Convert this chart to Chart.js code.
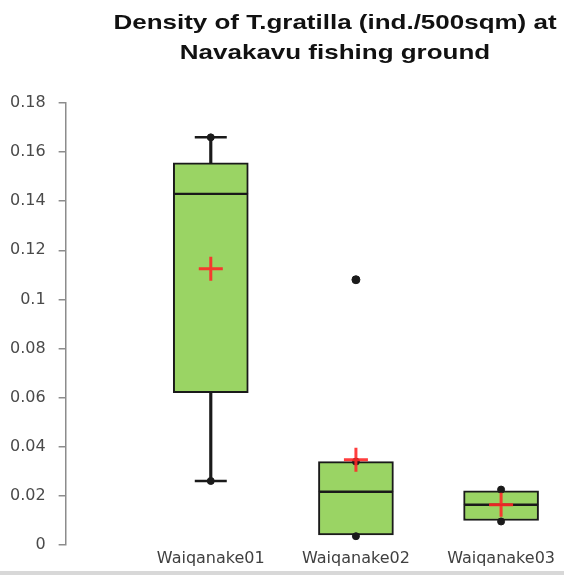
<!DOCTYPE html>
<html>
<head>
<meta charset="utf-8">
<script src="https://cdn.jsdelivr.net/npm/chart.js@4.4.1/dist/chart.umd.min.js"></script>
<style>
  body { margin: 0; background: #fff; }
  .wrap { position: relative; width: 564px; height: 575px; overflow: hidden; }
  .title {
    position: absolute; left: 106px; right: 0; top: 7px;
    text-align: center; font: bold 21px "Liberation Sans", Arial, sans-serif;
    line-height: 30px; color: #111; transform: scaleX(1.237);
  }
  .edge { position: absolute; left: 0; right: 0; top: 571px; height: 4px; background: #d8d8d8; }
</style>
</head>
<body>
<div class="wrap">
  <canvas id="boxChart" width="564" height="575"></canvas>
  <div class="title">Density of T.gratilla (ind./500sqm) at<br>Navakavu fishing ground</div>
  <div class="edge"></div>
</div>
<script>
const sites = ["Waiqanake01", "Waiqanake02", "Waiqanake03"];
const minVals = [0.026, 0.0035, 0.0095];
const q1Vals = [0.062, 0.004, 0.0099];
const medians = [0.143, 0.0216, 0.0163];
const q3Vals = [0.1556, 0.0339, 0.022];
const maxVals = [0.166, 0.0339, 0.0225];
const means = [0.1125, 0.0347, 0.0163];
const outliers = [null, 0.108, null];
const yTicks = [0, 0.02, 0.04, 0.06, 0.08, 0.1, 0.12, 0.14, 0.16, 0.18];

const boxGreen = "#9ad464";
const ink = "#1a1a1a";

// x position of each site on the linear axis
const pos = (i) => i + 1;

const whiskers = [];
sites.forEach((s, i) => {
  whiskers.push({ x: pos(i), y: [q3Vals[i], maxVals[i]] });
  whiskers.push({ x: pos(i), y: [minVals[i], q1Vals[i]] });
});

// min / max points
const ends = [];
sites.forEach((s, i) => {
  ends.push({ x: pos(i), y: maxVals[i] });
  ends.push({ x: pos(i), y: minVals[i] });
});

// caps only where the whisker actually sticks out of the box
const caps = [];
sites.forEach((s, i) => {
  if (maxVals[i] - q3Vals[i] > 0.001) caps.push({ x: pos(i), y: maxVals[i] });
  if (q1Vals[i] - minVals[i] > 0.001) caps.push({ x: pos(i), y: minVals[i] });
});

const ctx = document.getElementById("boxChart").getContext("2d");
new Chart(ctx, {
  type: "bar",
  data: {
    datasets: [
      {
        type: "line",
        data: means.map((v, i) => ({ x: pos(i), y: v })),
        showLine: false,
        pointStyle: "cross",
        pointRadius: 12,
        pointBorderWidth: 3,
        pointBorderColor: "rgba(255,40,40,0.9)",
        order: 0,
      },
      {
        type: "line",
        data: ends,
        showLine: false,
        pointStyle: "circle",
        pointRadius: 3.5,
        pointBackgroundColor: ink,
        pointBorderColor: ink,
        order: 1,
      },
      {
        type: "line",
        data: outliers.map((v, i) => ({ x: pos(i), y: v })),
        showLine: false,
        pointStyle: "circle",
        pointRadius: 4,
        pointBackgroundColor: ink,
        pointBorderColor: ink,
        order: 1,
      },
      {
        type: "line",
        data: caps,
        showLine: false,
        pointStyle: "line",
        pointRadius: 16,
        pointBorderWidth: 2.5,
        pointBorderColor: ink,
        order: 2,
      },
      {
        data: sites.map((s, i) => ({ x: pos(i), y: [q1Vals[i], medians[i]] })),
        backgroundColor: boxGreen,
        borderColor: ink,
        borderWidth: { left: 2, right: 2, bottom: 2, top: 1.5 },
        borderSkipped: false,
        barThickness: 75,
        grouped: false,
        order: 3,
      },
      {
        data: sites.map((s, i) => ({ x: pos(i), y: [medians[i], q3Vals[i]] })),
        backgroundColor: boxGreen,
        borderColor: ink,
        borderWidth: { left: 2, right: 2, top: 2, bottom: 1.5 },
        borderSkipped: false,
        barThickness: 75,
        grouped: false,
        order: 3,
      },
      {
        data: whiskers,
        backgroundColor: ink,
        borderWidth: 0,
        barThickness: 2.5,
        grouped: false,
        order: 4,
      },
    ],
  },
  options: {
    responsive: false,
    animation: false,
    layout: { padding: { left: -3, top: 103, right: 0, bottom: 3 } },
    plugins: { legend: { display: false }, tooltip: { enabled: false }, title: { display: false } },
    scales: {
      x: {
        type: "linear",
        min: 0,
        max: 3.306,
        offset: false,
        grid: { display: false, drawTicks: false },
        border: { display: false },
        afterFit: (axis) => { axis.paddingLeft = 0; axis.paddingRight = 0; },
        ticks: {
          stepSize: 1,
          includeBounds: false,
          autoSkip: false,
          maxRotation: 0,
          padding: 4,
          color: "#404040",
          font: { family: "DejaVu Sans", size: 16 },
          callback: (v) => (Number.isInteger(v) && v >= 1 && v <= sites.length ? sites[v - 1] : ""),
        },
      },
      y: {
        min: 0,
        max: 0.18,
        afterBuildTicks: (axis) => { axis.ticks = yTicks.map((v) => ({ value: v })); },
        grid: { drawOnChartArea: false, color: "#8c8c8c", tickLength: 7, lineWidth: 1.5 },
        border: { color: "#8c8c8c", width: 1.5 },
        ticks: {
          padding: 13,
          color: "#4a4a4a",
          font: { family: "DejaVu Sans", size: 16 },
          callback: (v) => String(+v.toFixed(2)),
        },
      },
    },
  },
});
</script>
</body>
</html>
